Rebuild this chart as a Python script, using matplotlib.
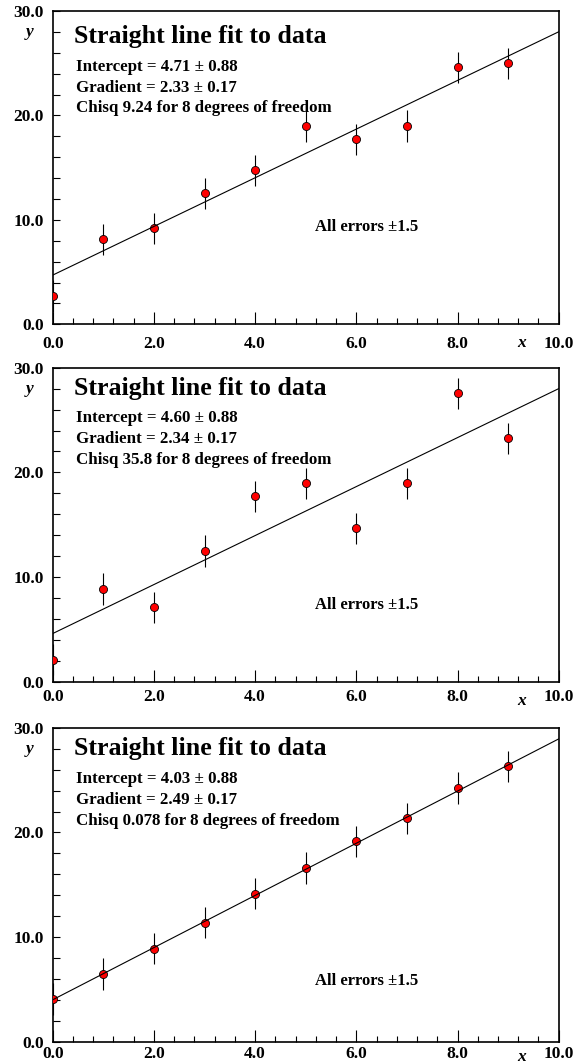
import matplotlib
matplotlib.use("Agg")
import matplotlib.pyplot as plt
from matplotlib.ticker import MultipleLocator, FixedLocator
from matplotlib.transforms import blended_transform_factory

plt.rcParams['font.family'] = ['Liberation Serif', 'DejaVu Serif']
plt.rcParams['font.weight'] = 'bold'

# Measurements (ten points, all with the same uncertainty)
x_vals = [0, 1, 2, 3, 4, 5, 6, 7, 8, 9]
y_set_a = [2.7, 8.15, 9.2, 12.55, 14.75, 19.0, 17.7, 19.0, 24.6, 25.0]
y_set_b = [2.1, 8.85, 7.1, 12.5, 17.7, 18.95, 14.65, 18.95, 27.55, 23.25]
y_set_c = [4.1, 6.5, 8.9, 11.4, 14.15, 16.6, 19.15, 21.35, 24.25, 26.3]
y_error = 1.5

# Fit results for each data set
intercepts = [4.71, 4.60, 4.03]
intercept_errs = [0.88, 0.88, 0.88]
gradients = [2.33, 2.34, 2.49]
gradient_errs = [0.17, 0.17, 0.17]
chisq_text = ["9.24", "35.8", "0.078"]
dof = 8

title_text = "Straight line fit to data"
x_tick_values = [0, 2, 4, 6, 8, 10]
y_tick_values = [0, 10, 20, 30]

W, H = 581, 1062
fig = plt.figure(figsize=(W / 100, H / 100), dpi=100)

# panel frames in pixels: (top, bottom)
frames = [(11.0, 324.3), (367.7, 681.7), (727.7, 1042.0)]
left_px, right_px = 52.7, 558.7

# text placement (axes fraction) per panel
title_y = [0.897, 0.912, 0.912]
info_y = [[0.809, 0.743, 0.677], [0.827, 0.761, 0.694], [0.824, 0.756, 0.689]]
note_y = [0.297, 0.232, 0.180]
xlabel_pad = [8.5, 4.9, 3.0]
xname_offset = [-19, -19, -15]

datasets = [y_set_a, y_set_b, y_set_c]

for i, ys in enumerate(datasets):
    top, bot = frames[i]
    ax = fig.add_axes([left_px / W, 1 - bot / H, (right_px - left_px) / W, (bot - top) / H])
    ax.set_xlim(0, 10)
    ax.set_ylim(0, 30)

    for sp in ax.spines.values():
        sp.set_linewidth(1.2)

    ax.errorbar(x_vals, ys, yerr=y_error, fmt='none', ecolor='black',
                elinewidth=0.8, capsize=0, zorder=2)
    ax.plot(x_vals, ys, 'o', ms=5.8, mfc='red', mec='black', mew=0.6, zorder=3)

    fx = [0, 10]
    fy = [intercepts[i] + gradients[i] * v for v in fx]
    ax.plot(fx, fy, '-', color='black', lw=0.8, zorder=4)

    ax.xaxis.set_major_locator(FixedLocator(x_tick_values))
    ax.xaxis.set_minor_locator(MultipleLocator(0.4))
    ax.yaxis.set_major_locator(FixedLocator(y_tick_values))
    ax.yaxis.set_minor_locator(MultipleLocator(2))
    ax.set_xticklabels(["%.1f" % v for v in x_tick_values])
    ax.set_yticklabels(["%.1f" % v for v in y_tick_values])

    ax.tick_params(axis='x', which='major', direction='in', length=9, width=0.8,
                   labelsize=12.5, pad=xlabel_pad[i], top=False)
    ax.tick_params(axis='x', which='minor', direction='in', length=4.5, width=0.8, top=False)
    ax.tick_params(axis='y', which='both', direction='in', length=4.8, width=0.8,
                   labelsize=12.5, pad=6.5, right=False)
    for lab in ax.get_xticklabels() + ax.get_yticklabels():
        lab.set_fontweight('bold')

    ax.text(0.043, title_y[i], title_text, transform=ax.transAxes,
            fontsize=18.6, fontweight='bold', ha='left', va='baseline')
    lines = ["Intercept = %.2f \u00b1 %.2f" % (intercepts[i], intercept_errs[i]),
             "Gradient = %.2f \u00b1 %.2f" % (gradients[i], gradient_errs[i]),
             "Chisq %s for %d degrees of freedom" % (chisq_text[i], dof)]
    for ln, yy in zip(lines, info_y[i]):
        ax.text(0.0464, yy, ln, transform=ax.transAxes, fontsize=12.2,
                fontweight='bold', ha='left', va='baseline')
    ax.text(0.519, note_y[i], "All errors \u00b11.5", transform=ax.transAxes,
            fontsize=12, fontweight='bold', ha='left', va='baseline')

    trans = blended_transform_factory(ax.transAxes, ax.transData)
    ax.text(-0.045, 28, "y", transform=trans, fontsize=12.5, fontstyle='italic',
            fontweight='bold', ha='center', va='center')
    ax.annotate("x", xy=(9.27, 0), xycoords='data', xytext=(0, xname_offset[i]),
                textcoords='offset pixels', fontsize=12.5, fontstyle='italic',
                fontweight='bold', ha='center', va='center')

fig.savefig("out.png", dpi=100)
